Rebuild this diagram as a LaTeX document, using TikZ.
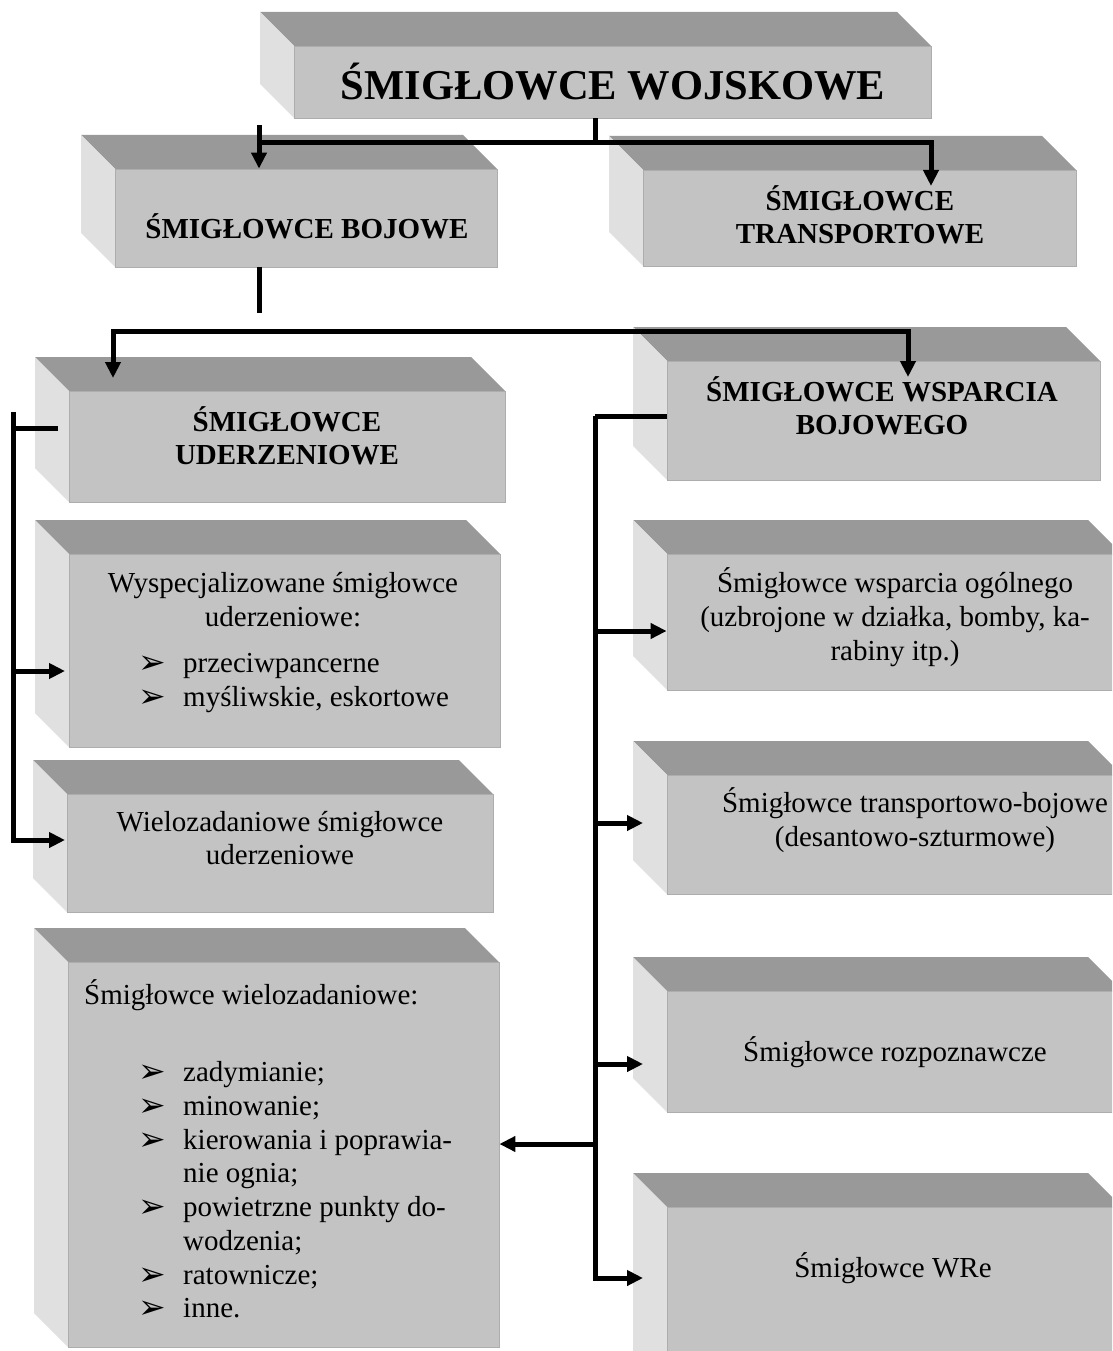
\documentclass[tikz,border=0pt]{standalone}
\usepackage{fontspec}
\setmainfont{Liberation Serif}
\newfontfamily\symfont{DejaVu Sans}
\usetikzlibrary{arrows.meta,calc}

\definecolor{topgray}{HTML}{999999}
\definecolor{sidegray}{HTML}{E0E0E0}
\definecolor{frontgray}{HTML}{C3C3C3}
\definecolor{edgegray}{HTML}{ADADAD}

\tikzset{
  front/.style={rectangle, fill=frontgray, draw=edgegray, line width=0.8pt, inner sep=0pt},
  txt/.style={align=center, inner sep=0pt, font=\fontsize{29}{34}\selectfont},
  head/.style={txt, font=\fontsize{29}{33}\selectfont\bfseries},
  link/.style={line width=5pt},
  arr/.style={link, -{Triangle[length=16pt,width=15pt]}},
  arrtwo/.style={link, {Triangle[length=16pt,width=15pt]}-{Triangle[length=16pt,width=15pt]}}
}

\def\dep{34}
% bevelled box: (name)(outer top left)(outer bottom right)
\def\bevel(#1)(#2,#3)(#4,#5){%
  \fill[topgray] (#2,#3) -- ({#4-\dep},#3) -- (#4,{#3+\dep}) -- ({#2+\dep},{#3+\dep}) -- cycle;
  \fill[sidegray] (#2,#3) -- ({#2+\dep},{#3+\dep}) -- ({#2+\dep},#5) -- (#2,{#5-\dep}) -- cycle;
  \node[front, minimum width={#4-#2-\dep}, minimum height={#5-#3-\dep}] (#1) at ({(#2+\dep+#4)/2},{(#3+\dep+#5)/2}) {};
}
\newcommand\bul{\makebox[45pt][l]{\raisebox{-1pt}{\symfont\fontsize{33}{33}\selectfont ➢}}}

\begin{document}
\begin{tikzpicture}[x=1pt,y=-1pt]
		\useasboundingbox (0,0) rectangle (1112,1351);
		\fill[white] (0,0) rectangle (1112,1351);
		\clip (0,0) rectangle (1112,1351);
		
		%%%%% boxes %%%%%
		\bevel(main)(260,12)(931,118)
		\bevel(boj)(81,135)(497,267)
		\bevel(trans)(609,136)(1076,266)
		\bevel(ud)(35,357)(505,502)
		\bevel(wsp)(633,327)(1100,480)
		\bevel(spec)(35,520)(500,747)
		\bevel(wielud)(33,760)(493,912)
		\bevel(wielo)(34,928)(499,1347)
		\bevel(og)(633,520)(1122,690)
		\bevel(des)(633,741)(1122,894)
		\bevel(rozp)(633,957)(1122,1112)
		\bevel(wre)(633,1173)(1122,1385)
		
		%%%%% texts %%%%%
		\node[txt, font=\fontsize{42.5}{48}\selectfont\bfseries] (main-t) at (613,82) {ŚMIGŁOWCE WOJSKOWE};
		\node[head] (boj-t) at (307,226) {ŚMIGŁOWCE BOJOWE};
		\node[head] (trans-t) at (860,215) {ŚMIGŁOWCE\\TRANSPORTOWE};
		\node[head] (ud-t) at (287,436) {ŚMIGŁOWCE\\UDERZENIOWE};
		\node[head] (wsp-t) at (882,406) {ŚMIGŁOWCE WSPARCIA\\BOJOWEGO};
		
		\node[txt] (spec-t) at (283,600) {Wyspecjalizowane śmigłowce\\uderzeniowe:};
		\node[txt, anchor=north west] (spec-l) at (138,648)
		  {\begin{tabular}{@{}l@{}}\bul przeciwpancerne\\ \bul myśliwskie, eskortowe\end{tabular}};
		\node[txt, font=\fontsize{29}{33}\selectfont] (wielud-t) at (280,838) {Wielozadaniowe śmigłowce\\uderzeniowe};
		
		\node[txt, anchor=west] (wielo-t) at (84,995) {Śmigłowce wielozadaniowe:};
		\node[txt, font=\fontsize{29}{33.7}\selectfont, anchor=north west] (wielo-l) at (138,1058)
		  {\begin{tabular}{@{}l@{}}
		   \bul zadymianie;\\
		   \bul minowanie;\\
		   \bul kierowania i poprawia-\\
		   \hspace*{45pt}nie ognia;\\
		   \bul powietrzne punkty do-\\
		   \hspace*{45pt}wodzenia;\\
		   \bul ratownicze;\\
		   \bul inne.
		   \end{tabular}};
		
		\node[txt] (og-t) at (895,617) {Śmigłowce wsparcia ogólnego\\(uzbrojone w działka, bomby, ka-\\rabiny itp.)};
		\node[txt] (des-t) at (915,820) {Śmigłowce transportowo-bojowe\\(desantowo-szturmowe)};
		\node[txt] (rozp-t) at (895,1052) {Śmigłowce rozpoznawcze};
		\node[txt] (wre-t) at (893,1268) {Śmigłowce WRe};
		
		%%%%% connectors %%%%%
		\coordinate (m-j) at (595,143);
		\coordinate (m-l) at (259,125);
		\coordinate (trans-in) at (931,186);
		\draw[link] (main.south -| m-j) -- (m-j);
		\draw[arr] (m-l) -- (m-l |- boj.north);
		\draw[arr] (m-l |- m-j) -| (trans-in);
		\draw[link] (boj.south -| m-l) -- ++(0,46);
		
		\coordinate (ud-in) at (113,378);
		\coordinate (wsp-in) at (908,377);
		\draw[arrtwo] (ud-in) -- ++(0,-47) -| (wsp-in);
		
		\coordinate (lb) at (13,412);
		\coordinate (ud-out) at (58,428);
		\coordinate (spec-in) at (65,671);
		\coordinate (wielud-in) at (65,840);
		\draw[link] (ud-out) -- (ud-out -| lb);
		\draw[arr] (lb) |- (wielud-in);
		\draw[arr] (lb |- spec-in) -- (spec-in);
		
		\coordinate (rb) at (595,416);
		\coordinate (og-in) at (667,631);
		\coordinate (des-in) at (643,823);
		\coordinate (rozp-in) at (643,1064);
		\coordinate (wre-in) at (643,1278);
		\coordinate (wielo-in) at (499,1144);
		\draw[link] (wsp.west |- rb) -- (rb);
		\draw[arr] (rb) |- (wre-in);
		\draw[arr] (rb |- og-in) -- (og.west |- og-in);
		\draw[arr] (rb |- des-in) -- (des-in);
		\draw[arr] (rb |- rozp-in) -- (rozp-in);
		\draw[arr] (rb |- wielo-in) -- (wielo.east |- wielo-in);
\end{tikzpicture}
\end{document}
